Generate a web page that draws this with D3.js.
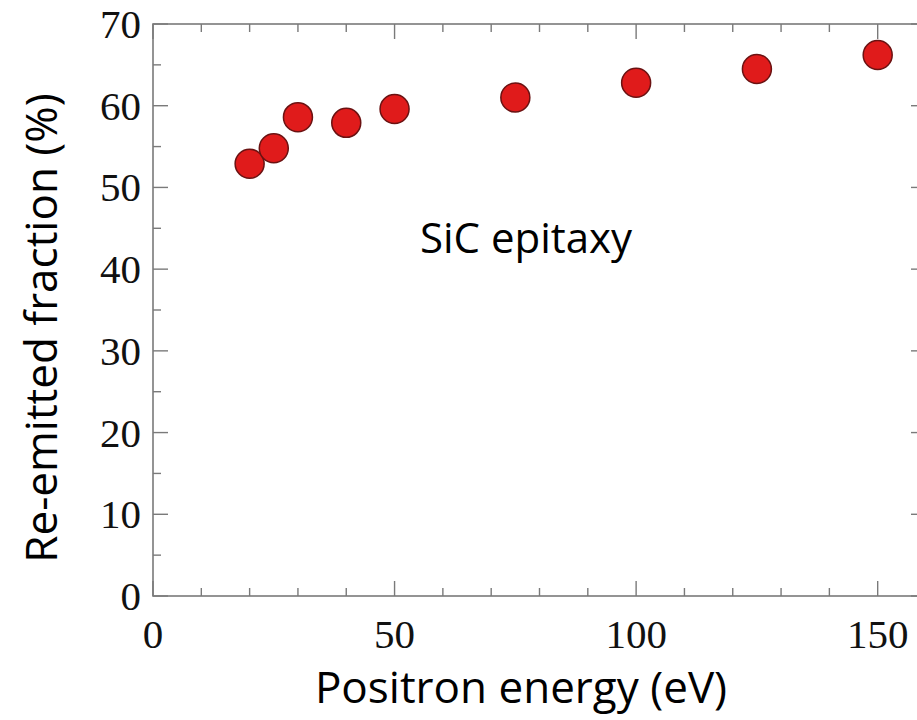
<!DOCTYPE html>
<html lang="en">
<head>
<meta charset="UTF-8">
<title>Re-emitted fraction vs positron energy</title>
<script src="https://d3js.org/d3.v7.min.js"></script>
<style>
    body { margin: 0; background: #fff; }
    .tick-label { font-family: 'Liberation Serif', 'Times New Roman', serif; font-size: 41px; fill: #111; }
    .title { font-family: 'Open Sans', 'Noto Sans', sans-serif; fill: #000; }
</style>
</head>
<body>
<svg id="chart" width="917" height="720"></svg>
<script>
    // data
    let energy = [20, 25, 30, 40, 50, 75, 100, 125, 150];
    let fraction = [52.9, 54.8, 58.6, 57.9, 59.6, 61.0, 62.8, 64.5, 66.2];
    let xTicks = [0, 50, 100, 150];
    let yTicks = [0, 10, 20, 30, 40, 50, 60, 70];

    let svg = d3.select("#chart");

    let x = d3.scaleLinear().domain([0, 160]).range([153, 926]);
    let y = d3.scaleLinear().domain([0, 70]).range([596, 24]);

    let axisColor = "#7a7a7a";
    let frame = svg.append("g");

    // box round the plot
    frame.append("rect")
        .attr("x", x(0)).attr("y", y(70))
        .attr("width", x(160) - x(0)).attr("height", y(0) - y(70))
        .attr("fill", "none").attr("stroke", axisColor).attr("stroke-width", 1.6);

    // x ticks (inward, bottom and top)
    d3.range(0, 161, 10).forEach(function(v) {
        let len = v % 50 === 0 ? 15 : 8;
        frame.append("line").attr("x1", x(v)).attr("x2", x(v))
            .attr("y1", y(0)).attr("y2", y(0) - len)
            .attr("stroke", axisColor).attr("stroke-width", 1.4);
        frame.append("line").attr("x1", x(v)).attr("x2", x(v))
            .attr("y1", y(70)).attr("y2", y(70) + len)
            .attr("stroke", axisColor).attr("stroke-width", 1.4);
    });

    // y ticks (inward, left and right)
    d3.range(0, 71, 5).forEach(function(v) {
        let len = v % 10 === 0 ? 15 : 8;
        frame.append("line").attr("x1", x(0)).attr("x2", x(0) + len)
            .attr("y1", y(v)).attr("y2", y(v))
            .attr("stroke", axisColor).attr("stroke-width", 1.4);
        frame.append("line").attr("x1", x(160)).attr("x2", x(160) - len)
            .attr("y1", y(v)).attr("y2", y(v))
            .attr("stroke", axisColor).attr("stroke-width", 1.4);
    });

    svg.selectAll(".xlab").data(xTicks).enter().append("text")
        .attr("class", "tick-label")
        .attr("x", d => x(d))
        .attr("y", 648)
        .attr("text-anchor", "middle")
        .text(d => d);

    svg.selectAll(".ylab").data(yTicks).enter().append("text")
        .attr("class", "tick-label")
        .attr("x", 141)
        .attr("y", d => y(d) + 14)
        .attr("text-anchor", "end")
        .text(d => d);

    // points
    let points = energy.map((e, i) => ({e: e, f: fraction[i]}));
    svg.selectAll(".dot").data(points).enter().append("circle")
        .attr("cx", d => x(d.e))
        .attr("cy", d => y(d.f))
        .attr("r", 14.5)
        .attr("fill", "#e01b1b")
        .attr("stroke", "#6a1212")
        .attr("stroke-width", 1.5);

    // titles
    svg.append("text").attr("class", "title")
        .attr("x", 521).attr("y", 703)
        .attr("text-anchor", "middle")
        .style("font-size", "44px")
        .text("Positron energy (eV)");

    svg.append("text").attr("class", "title")
        .attr("transform", "translate(57,328) rotate(-90)")
        .attr("text-anchor", "middle")
        .style("font-size", "44px")
        .text("Re-emitted fraction (%)");

    svg.append("text").attr("class", "title")
        .attr("x", 526).attr("y", 253)
        .attr("text-anchor", "middle")
        .style("font-size", "42px")
        .text("SiC epitaxy");
</script>
</body>
</html>
